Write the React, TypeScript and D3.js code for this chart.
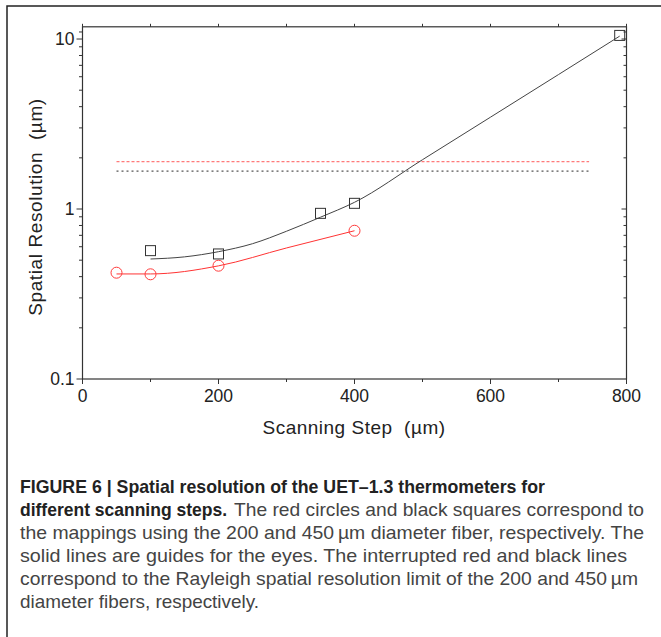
import React from "react";
import * as d3 from "d3";

const redX = [50, 100, 200, 400];
const redY = [0.422, 0.413, 0.464, 0.745];
const blackX = [100, 200, 350, 400, 790];
const blackY = [0.569, 0.544, 0.943, 1.08, 10.5];
const redGuideX = [50, 100, 200, 300, 400];
const redGuideY = [0.415, 0.415, 0.463, 0.59, 0.745];
const blackGuideX = [100, 150, 200, 250, 300, 350, 400, 500, 600, 700, 790];
const blackGuideY = [0.508, 0.523, 0.561, 0.625, 0.74, 0.895, 1.095, 1.95, 3.47, 6.18, 10.4];
const rayleighRed = 1.9;
const rayleighBlack = 1.67;
const rayleighX = [50, 745];
const xTicks = [0, 200, 400, 600, 800];
const xMinor = [100, 300, 500, 700];
const yMajor = [0.1, 1, 10];
const yMajorLabels = ["0.1", "1", "10"];

const captionLines = [
  "the mappings using the 200 and 450\u2009\u00b5m diameter fiber, respectively. The",
  "solid lines are guides for the eyes. The interrupted red and black lines",
  "correspond to the Rayleigh spatial resolution limit of the 200 and 450\u2009\u00b5m",
  "diameter fibers, respectively.",
];
const captionEnds = [644, 627, 638, 259];

export default function App() {
  const W = 661, H = 637;
  const x = d3.scaleLinear().domain([0, 800]).range([82.5, 626.5]);
  const y = d3.scaleLog().domain([0.1, 11.8]).range([379, 26.8]);
  const top = y(11.8), bottom = y(0.1), left = x(0), right = x(800);
  const yMinor: number[] = [];
  [0.1, 1].forEach((d) => { for (let k = 2; k <= 9; k++) yMinor.push(d * k); });
  yMinor.push(11);
  const line = d3.line<[number, number]>().x((d) => x(d[0])).y((d) => y(d[1])).curve(d3.curveMonotoneX);
  const redGuide = line(redGuideX.map((v, i) => [v, redGuideY[i]]));
  const blackGuide = line(blackGuideX.map((v, i) => [v, blackGuideY[i]]));
  const font = "'Liberation Sans', Arial, sans-serif";
  const capFont = "'Liberation Sans Narrow', 'Liberation Sans', Arial, sans-serif";
  const axisColor = "#333";
  return (
    <svg width={W} height={H} style={{ position: "absolute", left: 0, top: 0 }}>
      <rect x={0} y={0} width={W} height={H} fill="#fff" />
      <path d={`M7,${H + 5} V6 H${W + 5}`} fill="none" stroke="#222" strokeWidth={1.5} />
      <rect x={left} y={top} width={right - left} height={bottom - top} fill="none" stroke={axisColor} strokeWidth={1.2} />
      {xTicks.map((t) => (
        <g key={"xt" + t}>
          <line x1={x(t)} x2={x(t)} y1={bottom} y2={bottom + 5} stroke={axisColor} />
          <line x1={x(t)} x2={x(t)} y1={top} y2={top - 3} stroke={axisColor} />
          <text x={x(t)} y={bottom + 23} textAnchor="middle" fontFamily={font} fontSize={17.5} fill="#222">{t}</text>
        </g>
      ))}
      {xMinor.map((t) => (
        <g key={"xm" + t}>
          <line x1={x(t)} x2={x(t)} y1={bottom} y2={bottom + 3} stroke={axisColor} />
          <line x1={x(t)} x2={x(t)} y1={top} y2={top - 3} stroke={axisColor} />
        </g>
      ))}
      {yMajor.map((t, i) => (
        <g key={"yt" + t}>
          <line x1={left} x2={left - 6} y1={y(t)} y2={y(t)} stroke={axisColor} />
          {t !== 0.1 && <line x1={right} x2={right - 5} y1={y(t)} y2={y(t)} stroke={axisColor} />}
          <text x={left - 8} y={y(t) + 6} textAnchor="end" fontFamily={font} fontSize={17.5} fill="#222">{yMajorLabels[i]}</text>
        </g>
      ))}
      {yMinor.map((t) => (
        <g key={"ym" + t}>
          <line x1={left} x2={left - 3.5} y1={y(t)} y2={y(t)} stroke={axisColor} />
          <line x1={right} x2={right - 3} y1={y(t)} y2={y(t)} stroke={axisColor} />
        </g>
      ))}
      <text x={354} y={434} textAnchor="middle" fontFamily={font} fontSize={19} fill="#222" letterSpacing={0.5}>{"Scanning Step\u00a0 (µm)"}</text>
      <text transform={`translate(42,207) rotate(-90)`} textAnchor="middle" fontFamily={font} fontSize={19} fill="#222" letterSpacing={0.6}>{"Spatial Resolution\u00a0 (µm)"}</text>
      <line x1={x(rayleighX[0])} x2={x(rayleighX[1])} y1={y(rayleighRed)} y2={y(rayleighRed)} stroke="#ff7a7a" strokeWidth={1.4} strokeDasharray="3,2" />
      <line x1={x(rayleighX[0])} x2={x(rayleighX[1])} y1={y(rayleighBlack)} y2={y(rayleighBlack)} stroke="#555" strokeWidth={1.3} strokeDasharray="2,3" />
      <path d={blackGuide || ""} fill="none" stroke="#444" strokeWidth={1} />
      <path d={redGuide || ""} fill="none" stroke="#ff3333" strokeWidth={1} />
      {redX.map((v, i) => (
        <circle key={"c" + i} cx={x(v)} cy={y(redY[i])} r={5.5} fill="none" stroke="#ff3b3b" strokeWidth={1} />
      ))}
      {blackX.map((v, i) => (
        <rect key={"s" + i} x={x(v) - 5} y={y(blackY[i]) - 5} width={10} height={10} fill="none" stroke="#333" strokeWidth={1} />
      ))}
      <text x={20} y={493} fontFamily={capFont} fontSize={18.5} fontWeight="bold" fill="#222" textLength={525} lengthAdjust="spacingAndGlyphs">FIGURE 6 | Spatial resolution of the UET–1.3 thermometers for</text>
      <text x={20} y={516} fontFamily={capFont} fontSize={18.5} fontWeight="bold" fill="#222" textLength={207} lengthAdjust="spacingAndGlyphs">different scanning steps.</text>
      <text x={234} y={516} fontFamily={capFont} fontSize={18.5} fill="#444" textLength={410} lengthAdjust="spacingAndGlyphs">The red circles and black squares correspond to</text>
      {captionLines.map((t, i) => (
        <text key={"cl" + i} x={20} y={539 + i * 23} fontFamily={capFont} fontSize={18.5} fill="#444" textLength={captionEnds[i] - 20} lengthAdjust="spacingAndGlyphs">{t}</text>
      ))}
    </svg>
  );
}
